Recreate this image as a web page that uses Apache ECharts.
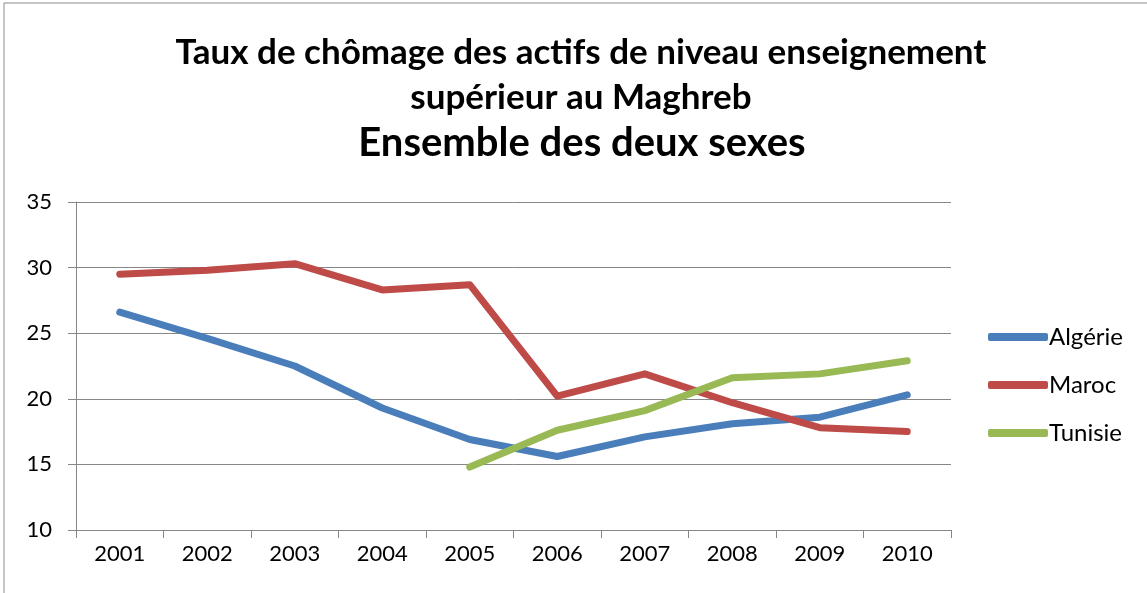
<!DOCTYPE html>
<html>
<head>
<meta charset="utf-8">
<script src="https://cdn.jsdelivr.net/npm/echarts@6/dist/echarts.min.js"></script>
<style>
  html, body { margin: 0; padding: 0; background: #fff; }
  #main { width: 1147px; height: 593px; }
</style>
</head>
<body>
<div id="main"></div>
<script>
var years = ['2001', '2002', '2003', '2004', '2005', '2006', '2007', '2008', '2009', '2010'];
var algerie = [26.6, 24.6, 22.5, 19.3, 16.9, 15.6, 17.1, 18.1, 18.6, 20.3];
var maroc = [29.5, 29.8, 30.3, 28.3, 28.7, 20.2, 21.9, 19.7, 17.8, 17.5];
var tunisie = [null, null, null, null, 14.8, 17.6, 19.1, 21.6, 21.9, 22.9];

var chartDom = document.getElementById('main');
var myChart = echarts.init(chartDom);
var option;

var font = 'Lato';

function lineSeries(name, data, color) {
    return {
        name: name,
        type: 'line',
        data: data,
        showSymbol: false,
        symbol: 'none',
        lineStyle: { width: 7, color: color, cap: 'round', join: 'round' },
        itemStyle: { color: color }
    };
}

option = {
    animation: false,
    backgroundColor: '#fff',
    textStyle: { fontFamily: font },
    graphic: [{
        type: 'rect',
        shape: { x: 4, y: 3, width: 1160, height: 620 },
        style: { fill: 'none', stroke: '#8c8c8c', lineWidth: 1 },
        silent: true
    }],
    title: [
        {
            text: 'Taux de chômage des actifs de niveau enseignement',
            left: 576,
            textAlign: 'center',
            top: 30,
            textStyle: { fontFamily: font, fontSize: 35, fontWeight: 'bold', color: '#000' }
        },
        {
            text: 'supérieur au Maghreb',
            left: 576,
            textAlign: 'center',
            top: 75,
            textStyle: { fontFamily: font, fontSize: 35, fontWeight: 'bold', color: '#000' }
        },
        {
            text: 'Ensemble des deux sexes',
            left: 577,
            textAlign: 'center',
            top: 118,
            textStyle: { fontFamily: font, fontSize: 40, fontWeight: 'bold', color: '#000' }
        }
    ],
    legend: {
        orient: 'vertical',
        left: 983,
        top: 320,
        icon: 'roundRect',
        itemWidth: 60,
        itemHeight: 8,
        itemGap: 24,
        textStyle: { fontFamily: font, fontSize: 24, color: '#000', padding: [0, 0, 0, -4] },
        data: ['Algérie', 'Maroc', 'Tunisie']
    },
    grid: {
        left: 76,
        right: 196,
        top: 202,
        bottom: 63
    },
    xAxis: {
        type: 'category',
        data: years,
        boundaryGap: true,
        axisLine: { lineStyle: { color: '#868686', width: 1 } },
        axisTick: { show: true, length: 8, lineStyle: { color: '#868686' } },
        axisLabel: { fontFamily: font, fontSize: 22, color: '#000', margin: 13 },
        splitLine: { show: false }
    },
    yAxis: {
        type: 'value',
        min: 10,
        max: 35,
        interval: 5,
        axisLine: { show: true, lineStyle: { color: '#868686', width: 1 } },
        axisTick: { show: true, length: 8, lineStyle: { color: '#868686' } },
        axisLabel: { fontFamily: font, fontSize: 22, color: '#000', margin: 24 },
        splitLine: { show: true, lineStyle: { color: '#868686', width: 1 } }
    },
    series: [
        lineSeries('Algérie', algerie, '#4a7ebb'),
        lineSeries('Maroc', maroc, '#be4b48'),
        lineSeries('Tunisie', tunisie, '#98b954')
    ]
};

option && myChart.setOption(option);
</script>
</body>
</html>
